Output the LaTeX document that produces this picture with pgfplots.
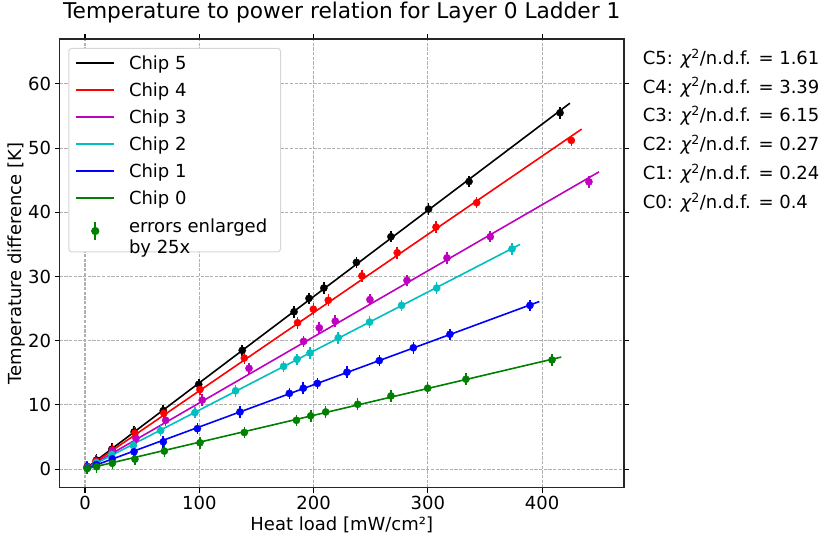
\documentclass[border=0pt]{standalone}
\usepackage{fontspec}
\setmainfont{DejaVu Sans}
\usepackage{pgfplots}
\usepackage{pgfplotstable}
\pgfplotsset{compat=1.18}

\definecolor{mplr}{HTML}{FF0000}
\definecolor{mplm}{HTML}{BF00BF}
\definecolor{mplc}{HTML}{00BFBF}
\definecolor{mplb}{HTML}{0000FF}
\definecolor{mplg}{HTML}{008000}
\definecolor{gridc}{HTML}{B0B0B0}
\definecolor{legc}{HTML}{D6D6D6}

\newcommand\fs{\fontsize{18bp}{21bp}\selectfont}
\newcommand\ft{\fontsize{21.7bp}{26bp}\selectfont}

% Chip 5
\pgfplotstableread{
x y
2 0.4
10 1.4
23.5 3.1
43 5.8
68.5 9.1
99.5 13.2
137.6 18.5
182.9 24.5
196 26.6
209 28.2
237.5 32.2
267.7 36.2
300.6 40.5
336 44.8
415.6 55.5
}\chipfive
% Chip 4
\pgfplotstableread{
x y
2 0.3
9.6 1.25
24 3.0
43.7 5.6
69 8.7
100.6 12.4
139.4 17.3
186 22.8
199.8 24.9
212.9 26.3
242.3 30.1
273.2 33.7
307.1 37.7
342.7 41.5
425.5 51.2
}\chipfour
% Chip 3
\pgfplotstableread{
x y
2 0.3
10 1.1
24 2.8
44.6 4.8
70.6 7.6
102.6 10.75
143.5 15.7
191.3 19.9
205 22.0
219 23.05
249.3 26.4
281.7 29.4
316.7 32.9
354.6 36.2
440.9 44.75
}\chipthree
% Chip 2
\pgfplotstableread{
x y
2 0.2
10 1.0
23.4 2.3
42.3 3.7
66.2 6.0
96.2 8.8
131.8 12.2
173.8 16.0
185.5 17.1
196.9 18.1
221.6 20.45
249 22.9
277 25.5
307.7 28.2
373.6 34.3
}\chiptwo
% Chip 1
\pgfplotstableread{
x y
2 0.15
10 0.7
23.9 1.6
42.9 2.7
68.5 4.25
98.3 6.3
135.6 8.9
178.8 11.8
191 12.6
203.3 13.35
229.2 15.1
257.5 16.9
287.3 18.9
319.3 21.0
389.3 25.5
}\chipone
% Chip 0
\pgfplotstableread{
x y
2 0.1
10.2 0.36
23.9 0.9
43.7 1.55
69.4 2.8
100.6 4.1
139.4 5.7
185 7.6
197.5 8.3
210.6 8.9
238.6 10.1
267.7 11.4
299.8 12.6
333.3 14.0
408.6 17.0
}\chipzero

\begin{document}
\begin{tikzpicture}
\path[use as bounding box] (-59.5bp,-54.3bp) rectangle (770.5bp,487.7bp);
\begin{axis}[
  at={(0,0)}, anchor=south west,
  scale only axis, width=564.5bp, height=448.7bp,
  xmin=-22.3, xmax=471.6, ymin=-2.9, ymax=67.0,
  xtick={0,100,200,300,400}, ytick={0,10,20,30,40,50,60},
  tick align=outside, major tick length=4.9bp,
  tick style={line width=1.1bp, black},
  axis line style={line width=1.1bp, black!85},
  grid=major,
  grid style={gridc, line width=1.1bp, dash pattern=on 3.3bp off 1.4bp},
  ticklabel style={font=\fs},
  /pgf/number format/assume math mode=true,
  xlabel={Heat load [mW/cm²]},
  ylabel={Temperature difference [K]},
  label style={font=\fs},
  xlabel style={at={(axis description cs:0.5,-0.0831)}, anchor=center},
  ylabel style={at={(axis description cs:-0.0753,0.5)}, anchor=center},
  title={Temperature to power relation for Layer 0 Ladder 1},
  title style={font=\ft, at={(axis description cs:0.5,1.0334)}, anchor=base},
  legend cell align=left,
  legend style={at={(axis description cs:0,1)}, anchor=north west,
    xshift=8.8bp, yshift=-8.8bp, draw=legc, line width=1bp,
    rounded corners=3bp, fill=white, font=\fs,
    inner xsep=6.7bp, inner ysep=7.5bp, row sep=11.8bp, column sep=14bp,
    nodes={inner sep=0bp}},
]
\addplot[black, line width=1.6bp,
  legend image code/.code={\draw[black, line width=1.8bp] (0bp,0bp) -- (37.7bp,0bp);}]
  coordinates {(2,0.27) (424.3,57.0)};
\addlegendentry{Chip 5}
\addplot[mplr, line width=1.6bp,
  legend image code/.code={\draw[mplr, line width=1.8bp] (0bp,0bp) -- (37.7bp,0bp);}]
  coordinates {(2,0.24) (434.5,52.96)};
\addlegendentry{Chip 4}
\addplot[mplm, line width=1.6bp,
  legend image code/.code={\draw[mplm, line width=1.8bp] (0bp,0bp) -- (37.7bp,0bp);}]
  coordinates {(2,0.21) (449.7,46.3)};
\addlegendentry{Chip 3}
\addplot[mplc, line width=1.6bp,
  legend image code/.code={\draw[mplc, line width=1.8bp] (0bp,0bp) -- (37.7bp,0bp);}]
  coordinates {(2,0.18) (380.6,35.0)};
\addlegendentry{Chip 2}
\addplot[mplb, line width=1.6bp,
  legend image code/.code={\draw[mplb, line width=1.8bp] (0bp,0bp) -- (37.7bp,0bp);}]
  coordinates {(2,0.13) (397.5,26.1)};
\addlegendentry{Chip 1}
\addplot[mplg, line width=1.6bp,
  legend image code/.code={\draw[mplg, line width=1.8bp] (0bp,0bp) -- (37.7bp,0bp);}]
  coordinates {(2,0.08) (416.7,17.45)};
\addlegendentry{Chip 0}

\addplot[only marks, mark=*, mark size=3.6bp, black, mark options={fill=black, draw=black},
  forget plot, error bars/.cd, y dir=both, y fixed=0.9,
  error bar style={line width=1.6bp, black}, error mark=none] table {\chipfive};
\addplot[only marks, mark=*, mark size=3.6bp, mplr, mark options={fill=mplr, draw=mplr},
  forget plot, error bars/.cd, y dir=both, y fixed=0.9,
  error bar style={line width=1.6bp, mplr}, error mark=none] table {\chipfour};
\addplot[only marks, mark=*, mark size=3.6bp, mplm, mark options={fill=mplm, draw=mplm},
  forget plot, error bars/.cd, y dir=both, y fixed=0.9,
  error bar style={line width=1.6bp, mplm}, error mark=none] table {\chipthree};
\addplot[only marks, mark=*, mark size=3.6bp, mplc, mark options={fill=mplc, draw=mplc},
  forget plot, error bars/.cd, y dir=both, y fixed=0.9,
  error bar style={line width=1.6bp, mplc}, error mark=none] table {\chiptwo};
\addplot[only marks, mark=*, mark size=3.6bp, mplb, mark options={fill=mplb, draw=mplb},
  forget plot, error bars/.cd, y dir=both, y fixed=0.9,
  error bar style={line width=1.6bp, mplb}, error mark=none] table {\chipone};
\addplot[only marks, mark=*, mark size=3.6bp, mplg, mark options={fill=mplg, draw=mplg},
  legend image code/.code={\draw[mplg, line width=1.6bp] (18.85bp,-9bp) -- (18.85bp,9bp);
    \fill[mplg] (18.85bp,0bp) circle (3.6bp);},
  error bars/.cd, y dir=both, y fixed=0.9,
  error bar style={line width=1.6bp, mplg}, error mark=none] table {\chipzero};
\addlegendentry{\begin{tabular}{@{}l@{\hspace{6.6bp}}}errors enlarged\\by 25x\end{tabular}}
\end{axis}
\begin{scope}[every node/.style={anchor=base west, inner sep=0pt, font=\fs}]
\node at (583.2bp,423.4bp) {C5: {\itshape χ}\textsuperscript{2}/n.d.f. = 1.61};
\node at (583.2bp,394.6bp) {C4: {\itshape χ}\textsuperscript{2}/n.d.f. = 3.39};
\node at (583.2bp,365.8bp) {C3: {\itshape χ}\textsuperscript{2}/n.d.f. = 6.15};
\node at (583.2bp,337.0bp) {C2: {\itshape χ}\textsuperscript{2}/n.d.f. = 0.27};
\node at (583.2bp,308.2bp) {C1: {\itshape χ}\textsuperscript{2}/n.d.f. = 0.24};
\node at (583.2bp,279.4bp) {C0: {\itshape χ}\textsuperscript{2}/n.d.f. = 0.4};
\end{scope}
\end{tikzpicture}
\end{document}
